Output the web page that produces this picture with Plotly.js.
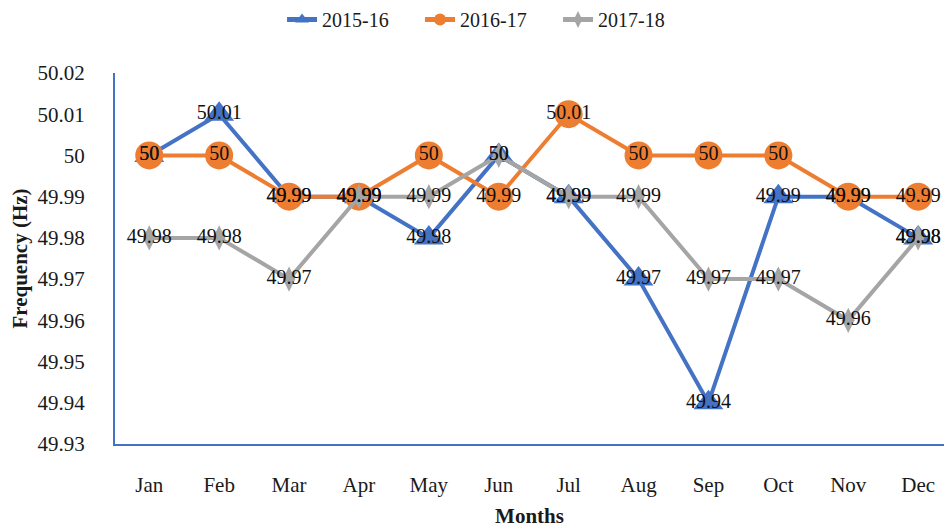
<!DOCTYPE html>
<html>
<head>
<meta charset="utf-8">
<script src="https://cdn.plot.ly/plotly-3.0.1.min.js"></script>
<style>html,body{margin:0;padding:0;background:#fff}#chart{width:944px;height:532px}</style>
</head>
<body>
<div id="chart"></div>
<script>
const months = ["Jan","Feb","Mar","Apr","May","Jun","Jul","Aug","Sep","Oct","Nov","Dec"];
const s2015 = [50, 50.01, 49.99, 49.99, 49.98, 50, 49.99, 49.97, 49.94, 49.99, 49.99, 49.98];
const s2016 = [50, 50, 49.99, 49.99, 50, 49.99, 50.01, 50, 50, 50, 49.99, 49.99];
const s2017 = [49.98, 49.98, 49.97, 49.99, 49.99, 50, 49.99, 49.99, 49.97, 49.97, 49.96, 49.98];
const yTicks = [49.93, 49.94, 49.95, 49.96, 49.97, 49.98, 49.99, 50, 50.01, 50.02];

const FONT = "Liberation Serif, Times New Roman, serif";
const series = [
  {name: "2015-16", y: s2015, color: "#4472C4", symbol: "triangle-up", size: 26},
  {name: "2016-17", y: s2016, color: "#ED7D31", symbol: "circle", size: 28},
  {name: "2017-18", y: s2017, color: "#A5A5A5", symbol: "diamond-tall", size: 18}
];

const traces = series.map(s => ({
  type: "scatter", mode: "lines+markers", name: s.name,
  x: months, y: s.y,
  line: {color: s.color, width: 4},
  marker: {color: s.color, symbol: s.symbol, size: s.size}
}));
series.forEach(s => traces.push({
  type: "scatter", mode: "text", showlegend: false, hoverinfo: "skip",
  x: months, y: s.y, text: s.y.map(v => String(v)),
  textposition: "middle center",
  textfont: {family: FONT, size: 20, color: "#111"}
}));

const layout = {
  width: 944, height: 532,
  margin: {l: 115, r: 0, t: 71, b: 88},
  paper_bgcolor: "#fff", plot_bgcolor: "#fff",
  font: {family: FONT, size: 20, color: "#1a1a1a"},
  showlegend: true,
  legend: {orientation: "h", x: 0.2015, xanchor: "left", xref: "paper", y: 1.145, yanchor: "middle",
           entrywidth: 93, entrywidthmode: "pixels",
           font: {family: FONT, size: 20, color: "#1a1a1a"}, itemsizing: "constant"},
  xaxis: {
    type: "category", range: [-0.49, 11.37],
    showgrid: false, zeroline: false,
    showline: true, linecolor: "#4472C4", linewidth: 2,
    ticks: "", ticklabelstandoff: 21,
    tickfont: {family: FONT, size: 21, color: "#1a1a1a"},
    title: {text: "<b>Months</b>", font: {family: FONT, size: 21, color: "#1a1a1a"}, standoff: 12}
  },
  yaxis: {
    range: [49.93, 50.02], tickvals: yTicks,
    showgrid: false, zeroline: false,
    showline: true, linecolor: "#4472C4", linewidth: 2,
    ticks: "", ticklabelstandoff: 24,
    tickfont: {family: FONT, size: 21, color: "#1a1a1a"},
    title: {text: "<b>Frequency (Hz)</b>", font: {family: FONT, size: 21, color: "#1a1a1a"}, standoff: 4}
  }
};
Plotly.newPlot("chart", traces, layout, {displayModeBar: false, staticPlot: true});
</script>
</body>
</html>
